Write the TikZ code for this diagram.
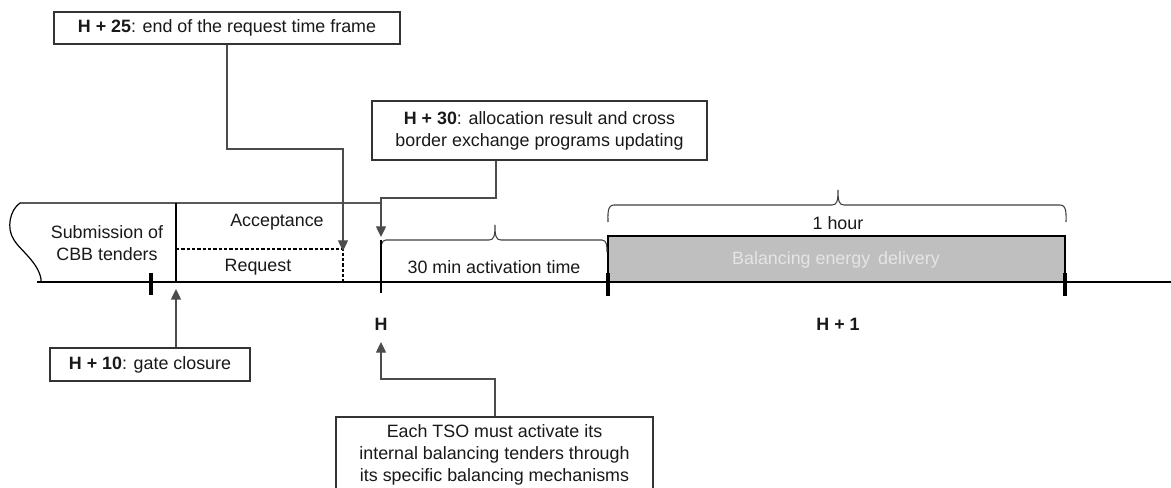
\documentclass[tikz,border=0pt]{standalone}
\usepackage{fontspec}
\setmainfont{Liberation Sans}
\usetikzlibrary{arrows.meta}
\begin{document}
\begin{tikzpicture}[x=0.75pt,y=-0.75pt,
  every node/.style={font=\fontsize{13.4}{16.5}\selectfont, text=black!90},
  box/.style={draw=black!80, line width=0.9pt, inner sep=0pt, align=center, fill=white},
  lbl/.style={inner sep=0pt},
  conn/.style={draw=black!70, line width=1pt},
  arr/.style={conn, -{Triangle[length=8pt,width=7.5pt]}},
  axis/.style={draw=black, line width=0.9pt},
  tick/.style={draw=black, line width=2.4pt},
  brc/.style={draw=black!75, line width=0.8pt}]
\clip (0,0) rectangle (1171,488);
\fill[white] (0,0) rectangle (1171,488);

% gray delivery box
\node[draw=black, line width=0.9pt, fill=black!25, minimum width=342.75pt, minimum height=34.5pt, inner sep=0pt] (deliv) at (836.5,259) {};
\node[lbl, text=white!90!black] (delivtxt) at (836,260) {Balancing energy\, delivery};

% left region
\draw[axis] (41,282) -- (41,279) .. controls (38,262) and (20,250) .. (14,240) .. controls (6,228) and (10,210) .. (20,203) -- (381,203);
\draw[axis] (176,203) -- (176,282);
\draw[axis, line width=0.8pt, dash pattern=on 2.5pt off 1.5pt] (176,249) -- (343,249) -- (343,282);

% activation box top / brace
\draw[brc] (381,252) to[out=90,in=180] (386,240) -- (489,240) .. controls (494,240) and (495,236) .. (495,225) .. controls (495,236) and (496,240) .. (501,240) -- (602,240) to[out=0,in=90] (607,252);
\draw[axis] (381,240) -- (381,293);

% 1 hour brace
\draw[brc] (608,222) to[out=90,in=180] (614,205) -- (832,205) .. controls (837,205) and (838,201) .. (838,190) .. controls (838,201) and (839,205) .. (844,205) -- (1060,205) to[out=0,in=90] (1066,222);

% timeline
\draw[axis] (37,282) -- (1171,282);
\draw[tick] (151,273) -- (151,295);
\draw[tick] (608,273) -- (608,296);
\draw[tick] (1065,273) -- (1065,296);

% labels
\node[lbl] (subm) at (107,243) [align=center] {Submission of\\CBB tenders};
\node[lbl] (accept) at (277,222) {Acceptance};
\node[lbl] (request) at (258,267) {Request};
\node[lbl] (activ) at (494,267) {30 min activation time};
\node[lbl] (onehour) at (838,223) {1 hour};
\node[lbl, font=\fontsize{13.4}{15}\selectfont\bfseries] (H) at (381,324) {H};
\node[lbl, font=\fontsize{13.4}{15}\selectfont\bfseries] (H1) at (838,324) {H + 1};

% callout boxes
\node[box, minimum width=259.5pt, minimum height=24pt] (n25) at (227,28) {\textbf{H + 25}: end of the request time frame};
\node[box, minimum width=251.25pt, minimum height=44.25pt] (n30) at (539.5,130.5) {\textbf{H + 30}: allocation result and cross\\border exchange programs updating};
\node[box, minimum width=150pt, minimum height=24.75pt] (n10) at (150,364.5) {\textbf{H + 10}: gate closure};
\node[box, minimum width=237.75pt, minimum height=57pt] (tso) at (494.5,455) {Each TSO must activate its\\internal balancing tenders through\\its specific balancing mechanisms};

% connector targets
\coordinate (t25) at (343,251);
\coordinate (t30) at (381,237);
\coordinate (t10) at (176,289);
\coordinate (tH) at (381,342);
\coordinate (s25) at (227,44);
\coordinate (s30) at (496,160);
\coordinate (k25) at (227,149);
\coordinate (k30) at (496,198);
\coordinate (ktso) at (495,379);

\draw[arr] (n25.south -| s25) -- (k25) -| (t25);
\draw[arr] (n30.south -| s30) -- (k30) -| (t30);
\draw[arr] (n10.north -| t10) -- (t10);
\draw[arr] (tso.north -| ktso) -- (ktso) -| (tH);
\end{tikzpicture}
\end{document}
